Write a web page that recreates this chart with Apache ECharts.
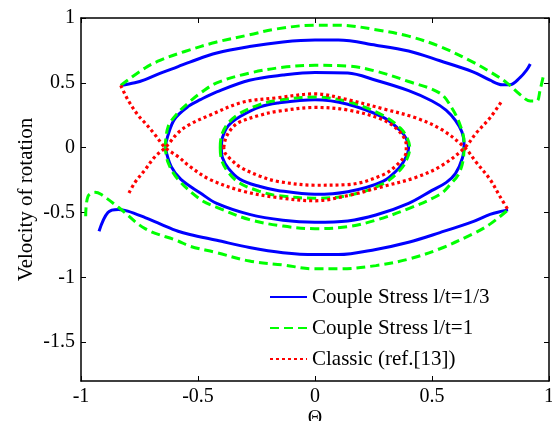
<!DOCTYPE html>
<html>
<head>
<meta charset="utf-8">
<script src="https://cdn.jsdelivr.net/npm/echarts@6/dist/echarts.min.js"></script>
<style>
  html, body { margin: 0; padding: 0; background: #fff; }
  #chart { width: 552px; height: 421px; }
</style>
</head>
<body>
<div id="chart"></div>
<script>
// tick values
const xTicks = [-1, -0.5, 0, 0.5, 1]
const yTicks = [-1.5, -1, -0.5, 0, 0.5, 1]

// legend names
const nameBlue = 'Couple Stress l/t=1/3'
const nameGreen = 'Couple Stress l/t=1'
const nameRed = 'Classic (ref.[13])'

// Couple Stress l/t=1/3 (blue)
const blueOuterTop = [[-0.83,0.48],[-0.77,0.50],[-0.726,0.525],[-0.66,0.575],[-0.585,0.625],[-0.535,0.66],[-0.42,0.73],[-0.28,0.78],[-0.137,0.815],[0,0.83],[0.1,0.83],[0.26,0.79],[0.40,0.745],[0.534,0.67],[0.675,0.585],[0.748,0.52],[0.80,0.485],[0.833,0.485],[0.876,0.54],[0.905,0.60],[0.92,0.645]]
const blueOuterBottom = [[-0.923,-0.645],[-0.885,-0.50],[-0.84,-0.477],[-0.80,-0.49],[-0.726,-0.54],[-0.66,-0.59],[-0.585,-0.645],[-0.535,-0.67],[-0.42,-0.715],[-0.28,-0.77],[-0.137,-0.81],[0,-0.825],[0.1,-0.825],[0.26,-0.785],[0.40,-0.73],[0.534,-0.655],[0.675,-0.57],[0.748,-0.515],[0.80,-0.49],[0.825,-0.48]]
const blueMid = [[-0.64,0],[-0.63,0.085],[-0.6,0.22],[-0.54,0.32],[-0.49,0.37],[-0.42,0.43],[-0.28,0.52],[-0.137,0.56],[0,0.58],[0.14,0.575],[0.26,0.52],[0.40,0.44],[0.5,0.36],[0.56,0.29],[0.6,0.21],[0.628,0.12],[0.637,0.03],[0.63,-0.08],[0.6,-0.2],[0.56,-0.27],[0.5,-0.33],[0.40,-0.43],[0.26,-0.52],[0.14,-0.565],[0,-0.575],[-0.137,-0.56],[-0.28,-0.515],[-0.42,-0.43],[-0.49,-0.35],[-0.573,-0.245],[-0.615,-0.145],[-0.64,0]]
const blueInner = [[-0.40,0],[-0.395,0.08],[-0.37,0.17],[-0.32,0.24],[-0.235,0.315],[-0.16,0.345],[0,0.37],[0.14,0.335],[0.29,0.235],[0.36,0.14],[0.39,0.07],[0.40,0],[0.39,-0.07],[0.36,-0.155],[0.29,-0.26],[0.14,-0.34],[0,-0.36],[-0.16,-0.33],[-0.235,-0.30],[-0.32,-0.245],[-0.37,-0.16],[-0.395,-0.08],[-0.40,0]]

// Couple Stress l/t=1 (green)
const greenOuterTop = [[-0.83,0.48],[-0.726,0.615],[-0.66,0.675],[-0.56,0.74],[-0.42,0.815],[-0.28,0.87],[-0.167,0.915],[0,0.945],[0.1,0.945],[0.26,0.91],[0.40,0.86],[0.534,0.78],[0.675,0.66],[0.748,0.585],[0.82,0.50],[0.876,0.41],[0.92,0.36],[0.948,0.36],[0.962,0.445],[0.975,0.545]]
const greenOuterBottom = [[-0.98,-0.53],[-0.97,-0.375],[-0.94,-0.345],[-0.915,-0.36],[-0.84,-0.46],[-0.726,-0.625],[-0.585,-0.72],[-0.535,-0.76],[-0.42,-0.81],[-0.28,-0.875],[-0.137,-0.905],[0,-0.935],[0.1,-0.935],[0.26,-0.91],[0.40,-0.86],[0.534,-0.78],[0.675,-0.665],[0.748,-0.59],[0.825,-0.48]]
const greenMid = [[-0.64,0],[-0.628,0.16],[-0.585,0.27],[-0.535,0.355],[-0.49,0.42],[-0.42,0.50],[-0.28,0.575],[-0.137,0.62],[0,0.635],[0.14,0.63],[0.26,0.59],[0.40,0.51],[0.534,0.42],[0.59,0.29],[0.625,0.15],[0.637,0.04],[0.635,-0.07],[0.615,-0.2],[0.58,-0.28],[0.534,-0.36],[0.40,-0.47],[0.26,-0.56],[0.14,-0.61],[0,-0.625],[-0.137,-0.605],[-0.28,-0.555],[-0.42,-0.46],[-0.49,-0.40],[-0.585,-0.245],[-0.628,-0.115],[-0.64,0]]
const greenInner = [[-0.405,0],[-0.40,0.09],[-0.375,0.18],[-0.325,0.26],[-0.24,0.33],[-0.16,0.365],[0,0.39],[0.14,0.355],[0.29,0.25],[0.365,0.15],[0.395,0.07],[0.405,0],[0.395,-0.08],[0.365,-0.17],[0.29,-0.28],[0.14,-0.37],[0,-0.39],[-0.16,-0.37],[-0.24,-0.335],[-0.325,-0.27],[-0.375,-0.18],[-0.40,-0.09],[-0.405,0]]

// Classic (red)
const redInner = [[-0.39,0],[-0.38,0.08],[-0.35,0.16],[-0.32,0.2],[-0.235,0.25],[-0.16,0.28],[0,0.31],[0.14,0.29],[0.29,0.215],[0.36,0.125],[0.39,0.02],[0.39,-0.03],[0.36,-0.115],[0.29,-0.21],[0.14,-0.285],[0,-0.29],[-0.16,-0.26],[-0.235,-0.22],[-0.32,-0.15],[-0.36,-0.09],[-0.385,-0.04],[-0.39,0]]
const redA = [[-0.83,0.48],[-0.80,0.37],[-0.756,0.25],[-0.726,0.19],[-0.684,0.10],[-0.64,0],[-0.585,-0.07],[-0.535,-0.145],[-0.45,-0.245],[-0.31,-0.335],[-0.16,-0.385],[0,-0.41],[0.14,-0.37],[0.29,-0.30],[0.43,-0.23],[0.54,-0.14],[0.64,0],[0.69,0.115],[0.748,0.23],[0.795,0.35]]
const redB = [[-0.795,-0.35],[-0.77,-0.27],[-0.726,-0.17],[-0.684,-0.07],[-0.64,0],[-0.585,0.115],[-0.535,0.18],[-0.45,0.25],[-0.31,0.35],[-0.16,0.385],[0,0.415],[0.14,0.37],[0.29,0.30],[0.43,0.23],[0.54,0.14],[0.64,0],[0.69,-0.115],[0.748,-0.245],[0.79,-0.375],[0.825,-0.48]]

const font = 'Liberation Serif'
const blueStyle = { color: '#0000ff', width: 3, type: 'solid' }
const greenStyle = { color: '#00ff00', width: 3, type: [9, 5] }
const redStyle = { color: '#ff0000', width: 3.2, type: [3, 3] }

const makeSeries = (name, data, lineStyle, z) => ({
  name: name,
  type: 'line',
  data: data,
  symbol: 'none',
  smooth: 0.35,
  color: lineStyle.color,
  lineStyle: lineStyle,
  z: z,
  animation: false
})

const series = [
  makeSeries(nameBlue, blueOuterTop, blueStyle, 2),
  makeSeries(nameBlue, blueOuterBottom, blueStyle, 2),
  makeSeries(nameBlue, blueMid, blueStyle, 2),
  makeSeries(nameBlue, blueInner, blueStyle, 2),
  makeSeries(nameGreen, greenOuterTop, greenStyle, 3),
  makeSeries(nameGreen, greenOuterBottom, greenStyle, 3),
  makeSeries(nameGreen, greenMid, greenStyle, 3),
  makeSeries(nameGreen, greenInner, greenStyle, 3),
  makeSeries(nameRed, redInner, redStyle, 4),
  makeSeries(nameRed, redA, redStyle, 4),
  makeSeries(nameRed, redB, redStyle, 4)
]

const axisLine = { show: true, onZero: false, lineStyle: { color: '#000', width: 1.5 } }
const axisTick = { show: true, inside: true, length: 5, lineStyle: { color: '#000', width: 1 } }

const chart = echarts.init(document.getElementById('chart'), null, { renderer: 'canvas' })
chart.setOption({
  animation: false,
  backgroundColor: '#fff',
  grid: { left: 81, right: 3, top: 18, bottom: 40, outerBoundsMode: 'none', containLabel: false },
  legend: {
    data: [nameBlue, nameGreen, nameRed],
    orient: 'vertical',
    left: 269,
    top: 286,
    padding: 0,
    itemWidth: 37,
    itemHeight: 14,
    itemGap: 9,
    itemStyle: { opacity: 0 },
    textStyle: { fontFamily: font, fontSize: 21, color: '#000', lineHeight: 22 }
  },
  xAxis: [
    {
      type: 'value', min: -1, max: 1, interval: 0.5,
      axisLine: axisLine, axisTick: axisTick, splitLine: { show: false },
      axisLabel: { fontFamily: font, fontSize: 20, color: '#000', margin: 6 },
      name: 'Θ', nameLocation: 'middle', nameGap: 28, nameMoveOverlap: false,
      nameTextStyle: { fontFamily: font, fontSize: 20, color: '#000' }
    },
    {
      type: 'value', position: 'top', min: -1, max: 1, interval: 0.5,
      axisLine: axisLine, axisTick: axisTick, splitLine: { show: false },
      axisLabel: { show: false }
    }
  ],
  yAxis: [
    {
      type: 'value', min: -1.8, max: 1,
      axisLine: axisLine,
      axisTick: Object.assign({ customValues: yTicks }, axisTick),
      splitLine: { show: false },
      axisLabel: { customValues: yTicks, fontFamily: font, fontSize: 20, color: '#000', margin: 6 },
      name: 'Velocity of rotation', nameLocation: 'middle', nameGap: 44, nameMoveOverlap: false,
      nameTextStyle: { fontFamily: font, fontSize: 21, color: '#000' }
    },
    {
      type: 'value', position: 'right', min: -1.8, max: 1,
      axisLine: axisLine,
      axisTick: Object.assign({ customValues: yTicks }, axisTick),
      splitLine: { show: false },
      axisLabel: { show: false }
    }
  ],
  series: series
})
</script>
</body>
</html>
